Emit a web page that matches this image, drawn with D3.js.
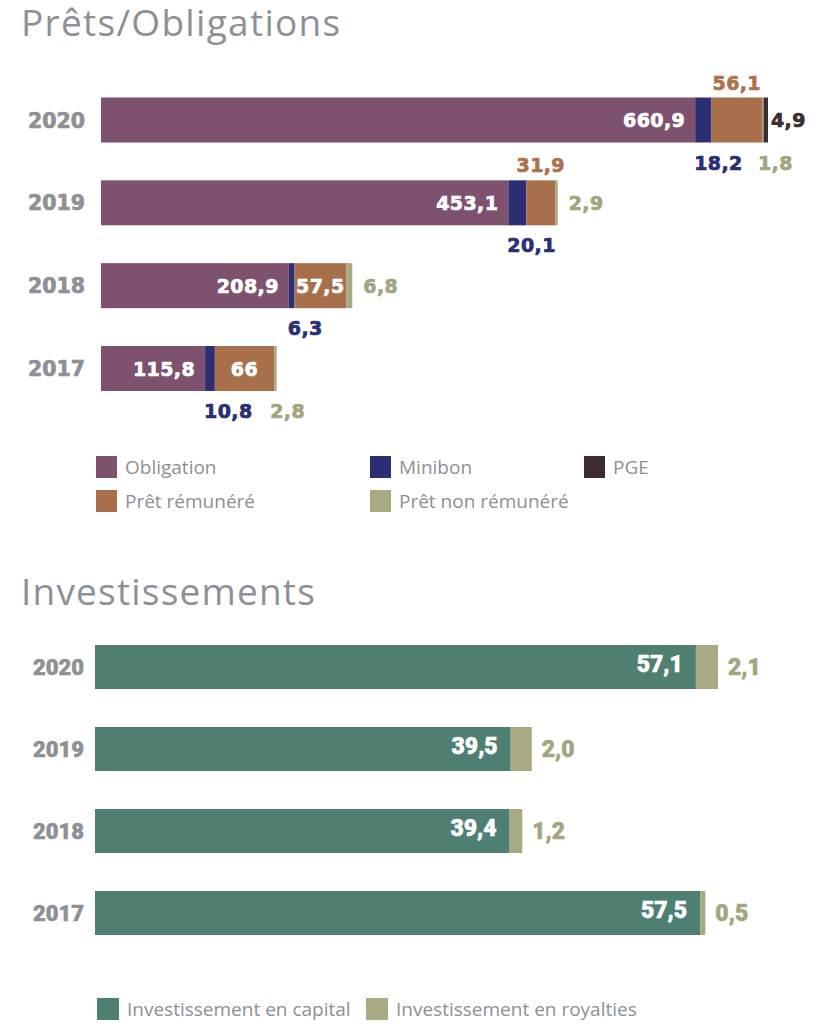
<!DOCTYPE html>
<html><head><meta charset="utf-8">
<script src="https://cdn.jsdelivr.net/npm/d3@7"></script>
<style>
html,body{margin:0;padding:0;background:#fff;}
svg{display:block;}
</style></head>
<body>
<svg id="c" width="829" height="1024"></svg>
<script>
// ---------- DATA ----------
const years = ["2020", "2019", "2018", "2017"];
const pretSeries = ["Obligation", "Minibon", "Prêt rémunéré", "Prêt non rémunéré", "PGE"];
const obligation = [660.9, 453.1, 208.9, 115.8];
const minibon = [18.2, 20.1, 6.3, 10.8];
const pretRemunere = [56.1, 31.9, 57.5, 66];
const pretNonRemunere = [1.8, 2.9, 6.8, 2.8];
const pge = [4.9, 0, 0, 0];
const pretLabels = {
  "Obligation": ["660,9", "453,1", "208,9", "115,8"],
  "Minibon": ["18,2", "20,1", "6,3", "10,8"],
  "Prêt rémunéré": ["56,1", "31,9", "57,5", "66"],
  "Prêt non rémunéré": ["1,8", "2,9", "6,8", "2,8"],
  "PGE": ["4,9", "", "", ""]
};
const invSeries = ["Investissement en capital", "Investissement en royalties"];
const capital = [57.1, 39.5, 39.4, 57.5];
const royalties = [2.1, 2.0, 1.2, 0.5];
const capitalLabels = ["57,1", "39,5", "39,4", "57,5"];
const royaltiesLabels = ["2,1", "2,0", "1,2", "0,5"];

// ---------- STYLE ----------
const colors = {
  "Obligation": "#7e516e",
  "Minibon": "#2b2e72",
  "Prêt rémunéré": "#a86f4b",
  "Prêt non rémunéré": "#a9a984",
  "PGE": "#3d2b31",
  "Investissement en capital": "#4e7f72",
  "Investissement en royalties": "#a9a984"
};
const labelColors = {
  "Minibon": "#2b2e72",
  "Prêt rémunéré": "#b0714a",
  "Prêt non rémunéré": "#a3a57f",
  "PGE": "#3d2b31",
  "Investissement en royalties": "#a3a57f"
};
const gray = "#8d9095";
const boldFont = "'DejaVu Sans', sans-serif";
const blackFont = "Roboto, 'DejaVu Sans', sans-serif";
const lightFont = "'Open Sans', sans-serif";

const svg = d3.select("#c");
svg.append("rect").attr("width", 829).attr("height", 1024).attr("fill", "#fff");

function boldLabel(sel, size) {
  return sel.attr("font-family", boldFont).attr("font-weight", "bold")
    .attr("font-size", size).attr("letter-spacing", 0.4)
    .attr("stroke-width", 0.7).attr("paint-order", "stroke");
}
function blackLabel(sel, size) {
  return sel.attr("font-family", blackFont).attr("font-weight", 900)
    .attr("font-size", size).attr("stroke-width", 0.5);
}
function setColor(sel, c) { return sel.attr("fill", c).attr("stroke", c); }

// ---------- CHART 1 ----------
svg.append("text").attr("x", 21).attr("y", 36)
  .attr("font-family", lightFont).attr("font-size", 37).attr("letter-spacing", 1.3)
  .attr("fill", gray).text("Prêts/Obligations");

const rows1 = years.map((y, i) => ({
  year: y,
  "Obligation": obligation[i],
  "Minibon": minibon[i],
  "Prêt rémunéré": pretRemunere[i],
  "Prêt non rémunéré": pretNonRemunere[i],
  "PGE": pge[i]
}));
const stack1 = d3.stack().keys(pretSeries)(rows1);
const total1 = d3.max(rows1, r => pretSeries.reduce((s, k) => s + r[k], 0));
const x1 = d3.scaleLinear().domain([0, total1]).range([101, 768]);
const bh1 = 45;
const y1 = d3.scalePoint().domain(years).range([120, 368.5]);

const g1 = svg.append("g");
stack1.forEach(layer => {
  g1.selectAll(null).data(layer).enter().append("rect")
    .attr("x", d => x1(d[0]))
    .attr("y", d => y1(d.data.year) - bh1 / 2)
    .attr("width", d => Math.max(0, x1(d[1]) - x1(d[0])))
    .attr("height", bh1)
    .attr("fill", colors[layer.key]);
});

// year labels
setColor(boldLabel(g1.selectAll(null).data(years).enter().append("text"), 20.5), gray)
  .attr("letter-spacing", 0)
  .attr("x", 85).attr("y", d => y1(d) + 7.5)
  .attr("text-anchor", "end")
  .text(d => d);

// label placement per series / year
const placement = {
  "Obligation": ["in", "in", "in", "in"],
  "Minibon": ["below", "below", "below", "below"],
  "Prêt rémunéré": ["above", "above", "in", "in"],
  "Prêt non rémunéré": ["below", "right", "right", "below"],
  "PGE": ["right", "none", "none", "none"]
};
stack1.forEach(layer => {
  layer.forEach((d, i) => {
    const key = layer.key;
    const pl = placement[key][i];
    const txt = pretLabels[key][i];
    if (pl === "none" || !txt) return;
    const cy = y1(d.data.year);
    const x0 = x1(d[0]), xe = x1(d[1]);
    const t = boldLabel(g1.append("text"), 19).text(txt);
    if (pl === "in") {
      setColor(t, "#fff").attr("y", cy + 7);
      if (key === "Obligation") t.attr("x", xe - 10).attr("text-anchor", "end");
      else t.attr("x", (x0 + xe) / 2).attr("text-anchor", "middle");
    } else if (pl === "above") {
      setColor(t, labelColors[key]).attr("x", (x0 + xe) / 2).attr("y", cy - bh1 / 2 - 8)
        .attr("text-anchor", "middle");
    } else if (pl === "below") {
      const off = key === "Minibon" ? -1 : -4;
      setColor(t, labelColors[key]).attr("x", x0 + off).attr("y", cy + bh1 / 2 + 27);
    } else if (pl === "right") {
      const endX = x1(d3.sum(pretSeries, k => d.data[k]));
      const gap = key === "PGE" ? 3 : 11;
      setColor(t, labelColors[key]).attr("x", endX + gap).attr("y", cy + 7);
    }
  });
});

// legend 1
const legend1 = [
  { key: "Obligation", x: 96, y: 456 },
  { key: "Minibon", x: 370, y: 456 },
  { key: "PGE", x: 584, y: 456 },
  { key: "Prêt rémunéré", x: 96, y: 490 },
  { key: "Prêt non rémunéré", x: 370, y: 490 }
];
const lg1 = svg.append("g");
legend1.forEach(l => {
  lg1.append("rect").attr("x", l.x).attr("y", l.y).attr("width", 21).attr("height", 22)
    .attr("fill", colors[l.key]);
  lg1.append("text").attr("x", l.x + 29).attr("y", l.y + 18)
    .attr("font-family", lightFont).attr("font-size", 19).attr("fill", gray).text(l.key);
});

// ---------- CHART 2 ----------
svg.append("text").attr("x", 21).attr("y", 605)
  .attr("font-family", lightFont).attr("font-size", 37).attr("letter-spacing", 1.2)
  .attr("fill", gray).text("Investissements");

const rows2 = years.map((y, i) => ({
  year: y,
  "Investissement en capital": capital[i],
  "Investissement en royalties": royalties[i]
}));
const stack2 = d3.stack().keys(invSeries)(rows2);
const total2 = d3.max(rows2, r => r[invSeries[0]] + r[invSeries[1]]);
const x2 = d3.scaleLinear().domain([0, total2]).range([95, 718]);
const bh2 = 44;
const y2 = d3.scalePoint().domain(years).range([667, 913]);

const g2 = svg.append("g");
stack2.forEach(layer => {
  g2.selectAll(null).data(layer).enter().append("rect")
    .attr("x", d => x2(d[0]))
    .attr("y", d => y2(d.data.year) - bh2 / 2)
    .attr("width", d => Math.max(0, x2(d[1]) - x2(d[0])))
    .attr("height", bh2)
    .attr("fill", colors[layer.key]);
});
setColor(blackLabel(g2.selectAll(null).data(years).enter().append("text"), 22), gray)
  .attr("x", 84).attr("y", d => y2(d) + 7.5)
  .attr("text-anchor", "end")
  .text(d => d);

stack2[0].forEach((d, i) => {
  setColor(blackLabel(g2.append("text"), 23), "#fff")
    .attr("x", x2(d[1]) - 13).attr("y", y2(d.data.year) + 5)
    .attr("text-anchor", "end")
    .text(capitalLabels[i]);
});
stack2[1].forEach((d, i) => {
  setColor(blackLabel(g2.append("text"), 23), labelColors["Investissement en royalties"])
    .attr("x", x2(d[1]) + 10).attr("y", y2(d.data.year) + 8)
    .text(royaltiesLabels[i]);
});

const legend2 = [
  { key: "Investissement en capital", x: 97, y: 998 },
  { key: "Investissement en royalties", x: 366, y: 998 }
];
legend2.forEach(l => {
  svg.append("rect").attr("x", l.x).attr("y", l.y).attr("width", 22).attr("height", 22)
    .attr("fill", colors[l.key]);
  svg.append("text").attr("x", l.x + 30).attr("y", l.y + 18)
    .attr("font-family", lightFont).attr("font-size", 19).attr("fill", gray).text(l.key);
});
</script>
</body></html>
